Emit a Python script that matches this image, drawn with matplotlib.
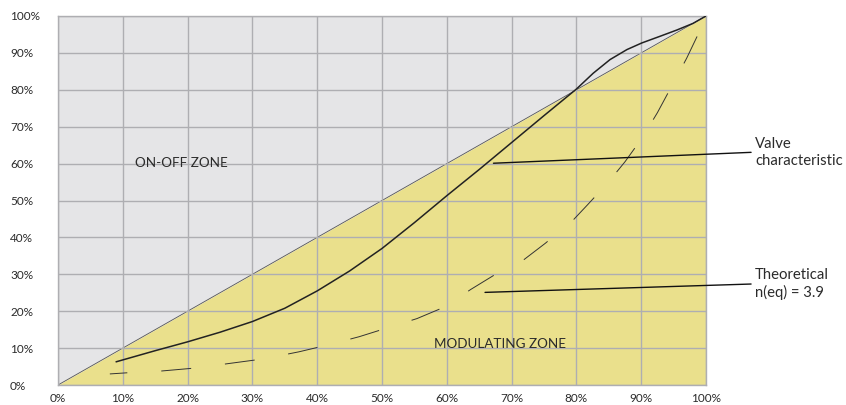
import numpy as np
import matplotlib.pyplot as plt

plt.rcParams['font.family'] = ['Lato', 'DejaVu Sans']
plt.rcParams['lines.scale_dashes'] = False

# stroke (% open) vs flow (%)
valve_x = [9, 15, 20, 25, 30, 35, 40, 45, 50, 55, 60, 65, 70, 75, 80, 82.6, 85.2,
           87.8, 90.1, 92.9, 95.5, 98, 100]
valve_y = [6.3, 9.3, 11.7, 14.3, 17.2, 20.8, 25.5, 30.9, 37.0, 44.0, 51.3, 58.4, 65.7,
           73.0, 80.2, 84.5, 88.2, 90.9, 92.7, 94.5, 96.2, 98.0, 100]

theo_x = [8, 10.6, 16, 21.2, 26.7, 31.8, 37.2, 42, 46.5, 55.4, 59.6, 63.7, 67.7, 71.7, 75.2,
          79.5, 81.7, 84.8, 87.5, 90.2, 92.5, 94.8, 97, 99.1, 100]
theo_y = [3.0, 3.3, 3.8, 4.6, 5.9, 7.1, 9.0, 11.0, 13.1, 18.0, 21.1, 25.9, 30.2, 33.7, 38.4,
          44.7, 48.8, 54.7, 60.5, 67.1, 73.8, 81.3, 88.5, 96.2, 100]

ticks = list(range(0, 101, 10))
tick_labels = [f"{t}%" for t in ticks]

gray_bg = '#e5e5e7'
yellow = '#eae08c'
grid_c = '#aeaeb2'
txt = '#2b2b2b'

fig = plt.figure(figsize=(8.46, 4.05), dpi=100)
ax = fig.add_axes([58/846, 20/405, 648/846, 369/405])

ax.fill_between([0, 100], [0, 100], [100, 100], color=gray_bg, lw=0, zorder=0)
ax.fill_between([0, 100], [0, 0], [0, 100], color=yellow, lw=0, zorder=0)
ax.set_xlim(0, 100)
ax.set_ylim(0, 100)

ax.set_xticks(ticks)
ax.set_yticks(ticks)
ax.set_xticklabels(tick_labels)
ax.set_yticklabels(tick_labels, ha='left')
ax.tick_params(axis='both', length=0, labelsize=8.5, colors=txt)
ax.tick_params(axis='y', pad=34.5)
ax.tick_params(axis='x', pad=6)
ax.grid(True, color=grid_c, lw=1.0, zorder=1)
for s in ax.spines.values():
    s.set_color(grid_c)
    s.set_linewidth(1.0)
ax.set_axisbelow(False)

# diagonal
ax.plot([0, 100], [0, 100], color='#555555', lw=0.6, zorder=2)

ax.plot(valve_x, valve_y, color='#222222', lw=1.1, zorder=3)
ax.plot(theo_x, theo_y, color='#333333', lw=0.7, zorder=3,
        linestyle=(9, (21.6, 24.5)))

ax.text(19.0, 60.2, 'ON-OFF ZONE', fontsize=9.7, color=txt, va='center', ha='center')
ax.text(68.2, 11.1, 'MODULATING ZONE', fontsize=9.7, color=txt, va='center', ha='center')

# callouts
ax.annotate('Valve\ncharacteristic', xy=(67.2, 60.1), xytext=(107.6, 63.1),
            textcoords='data', fontsize=10.7, color=txt, va='center', ha='left',
            linespacing=1.25, annotation_clip=False,
            arrowprops=dict(arrowstyle='-', color='#111111', lw=1.0,
                            shrinkA=1, shrinkB=0, relpos=(0, 0.5)))
ax.annotate('Theoretical\nn(eq) = 3.9', xy=(65.9, 25.1), xytext=(107.6, 27.4),
            textcoords='data', fontsize=10.7, color=txt, va='center', ha='left',
            linespacing=1.25, annotation_clip=False,
            arrowprops=dict(arrowstyle='-', color='#111111', lw=1.0,
                            shrinkA=1, shrinkB=0, relpos=(0, 0.5)))

fig.savefig('out.png', dpi=100)
